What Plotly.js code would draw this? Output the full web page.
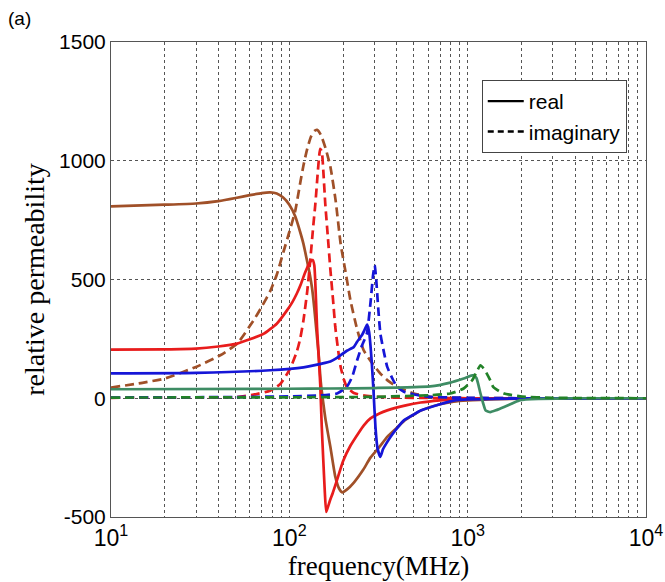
<!DOCTYPE html>
<html>
<head>
<meta charset="utf-8">
<script src="https://cdn.plot.ly/plotly-3.0.1.min.js"></script>
<style>html,body{margin:0;padding:0;background:#fff;}#chart{width:665px;height:582px;}</style>
</head>
<body>
<div id="chart"></div>
<script>
// ---- data (frequency in MHz, relative permeability) ----
const brownRealF = [10,20,30,40,50,60,70,78,85,92,100,108,115,120,126,130,134,138,142,146,150,155,160,170,181,190,198,210,230,260,285,320,354,400,440,545,700,833,1000,1500,2000,3000,5000,10000];
const brownRealV = [808,815,820,830,843,855,864,867,862,846,815,765,700,650,575,525,465,380,280,185,70,-20,-95,-206,-330,-380,-396,-385,-355,-300,-250,-205,-163,-125,-95,-52,-25,-14,-9,-4,-2,-1,0,0];

const brownImagF = [10,15,20,30,41,51,63,70,78,85,93,100,108,115,120,126,132,138,143,150,160,170,182,194,208,220,240,261,290,324,360,403,450,499,617,800,1000,2000,10000];
const brownImagV = [45,65,83,132,181,230,328,385,450,520,620,700,790,905,980,1050,1100,1125,1130,1110,1050,974,830,650,520,413,290,202,150,104,72,48,32,20,6,2,1,0,0];

const redRealF = [10,20,30,40,51,60,72,85,97,104,110,116,122,128,132,135,138,141,143,146,149,152,155,158,161,165,170,175,185,200,220,245,261,285,320,354,450,545,700,833,1000,2000,10000];
const redRealV = [205,206,209,218,230,248,272,314,370,405,440,480,525,562,578,582,560,420,300,180,60,-120,-260,-390,-479,-455,-425,-400,-345,-265,-200,-145,-115,-85,-64,-51,-30,-18,-9,-5,-3,-1,0];

const redImagF = [10,30,51,63,78,89,101,110,115,120,126,131,136,140,144,147,149,152,155,159,164,170,176,181,188,194,202,210,230,260,300,400,600,1000,10000];
const redImagV = [2,3,5,15,32,60,125,195,250,328,450,581,720,820,940,1020,1050,1040,960,820,690,539,410,300,200,132,80,48,22,12,7,3,1,0,0];

const blueRealF = [10,30,78,120,150,170,185,210,230,240,255,265,273,280,290,297,304,312,324,335,350,369,400,439,500,545,700,833,1000,2000,10000];
const blueRealV = [105,107,118,130,145,155,170,200,216,238,265,290,310,280,150,20,-120,-210,-247,-215,-190,-163,-128,-93,-68,-52,-25,-10,-5,-1,0];

const blueImagF = [10,50,100,150,185,210,225,240,255,272,285,295,301,307,315,324,340,354,380,403,439,500,617,800,1000,2000,10000];
const blueImagV = [3,5,8,12,20,48,90,160,220,272,400,520,560,500,380,272,190,132,80,48,27,16,6,3,2,0,0];

const greenRealF = [10,100,170,300,617,800,950,1080,1120,1150,1180,1220,1260,1340,1450,1600,1800,1970,2500,4000,10000];
const greenRealV = [38,40,41,43,50,66,83,97,85,55,20,-20,-51,-58,-50,-37,-20,-8,-3,0,0];

const greenImagF = [10,100,300,617,800,950,1060,1120,1180,1230,1280,1340,1390,1500,1600,1970,3000,10000];
const greenImagV = [3,4,6,13,20,41,76,110,139,125,104,75,48,30,20,8,2,0];

const legendNames = ['real', 'imaginary'];
const xTickVals = [10,20,30,40,50,60,70,80,90,100,200,300,400,500,600,700,800,900,1000,2000,3000,4000,5000,6000,7000,8000,9000,10000];
const xTickText = xTickVals.map(v => {
  const e = Math.log10(v);
  return Number.isInteger(e) ? '10<sup>' + e + '</sup>' : '';
});
const yTickVals = [-500, 0, 500, 1000, 1500];
const yTickText = ['-500', '0', '500', '1000', '1500'];

// ---- styles ----
const BROWN = 'rgb(160,80,40)';
const RED = 'rgb(232,28,28)';
const BLUE = 'rgb(22,22,215)';
const GREEN_S = 'rgb(62,140,100)';
const GREEN_D = 'rgb(34,130,40)';
const DASH = '9px,5px';
const LW = 2.7;

function tr(x, y, color, dashed) {
  return {
    x: x, y: y, type: 'scatter', mode: 'lines', showlegend: false, hoverinfo: 'skip',
    line: {color: color, width: LW, dash: dashed ? DASH : 'solid', shape: 'spline', smoothing: 0.5}
  };
}

const traces = [
  tr(brownRealF, brownRealV, BROWN, false),
  tr(brownImagF, brownImagV, BROWN, true),
  tr(redRealF, redRealV, RED, false),
  tr(redImagF, redImagV, RED, true),
  tr(blueRealF, blueRealV, BLUE, false),
  tr(blueImagF, blueImagV, BLUE, true),
  tr(greenRealF, greenRealV, GREEN_S, false),
  tr(greenImagF, greenImagV, GREEN_D, true),
  {x: [null], y: [null], type: 'scatter', mode: 'lines', name: legendNames[0], showlegend: true,
   line: {color: '#000', width: 2.4, dash: 'solid'}},
  {x: [null], y: [null], type: 'scatter', mode: 'lines', name: legendNames[1], showlegend: true,
   line: {color: '#000', width: 2.4, dash: '6px,4px'}}
];

const SANS = '"Liberation Sans", Arial, sans-serif';
const SERIF = '"Liberation Serif", "Times New Roman", serif';

const layout = {
  width: 665, height: 582,
  margin: {l: 111, r: 19, t: 42, b: 65},
  paper_bgcolor: '#fff', plot_bgcolor: '#fff',
  font: {family: SANS, color: '#000', size: 18},
  xaxis: {
    type: 'log', range: [1, 4], tickmode: 'array', tickvals: xTickVals, ticktext: xTickText,
    tickangle: 0,
    showgrid: true, gridcolor: '#555', griddash: 'dot', gridwidth: 1,
    showline: true, linecolor: '#555', linewidth: 1, mirror: true,
    ticks: '', zeroline: false,
    tickfont: {family: SANS, size: 23, color: '#000'},
    title: {text: 'frequency(MHz)', font: {family: SERIF, size: 27, color: '#000'}, standoff: 0}
  },
  yaxis: {
    range: [-500, 1500], tickmode: 'array', tickvals: yTickVals, ticktext: yTickText,
    showgrid: true, gridcolor: '#555', griddash: 'dot', gridwidth: 1,
    showline: true, linecolor: '#555', linewidth: 1, mirror: true,
    ticks: '', zeroline: false,
    tickfont: {family: SANS, size: 21, color: '#000'},
    title: {text: 'relative permeability', font: {family: SERIF, size: 28, color: '#000'}, standoff: 6}
  },
  legend: {
    x: 0.693, y: 0.92, xanchor: 'left', yanchor: 'top',
    bgcolor: '#fff', bordercolor: '#444', borderwidth: 1,
    font: {family: SANS, size: 21, color: '#000'},
    itemwidth: 36, tracegroupgap: 0
  },
  annotations: [{
    text: '(a)', xref: 'paper', yref: 'paper', x: -0.197, y: 1.05, xanchor: 'left', yanchor: 'middle',
    showarrow: false, font: {family: SANS, size: 19, color: '#000'}
  }]
};

Plotly.newPlot('chart', traces, layout, {displayModeBar: false, staticPlot: true});
</script>
</body>
</html>
